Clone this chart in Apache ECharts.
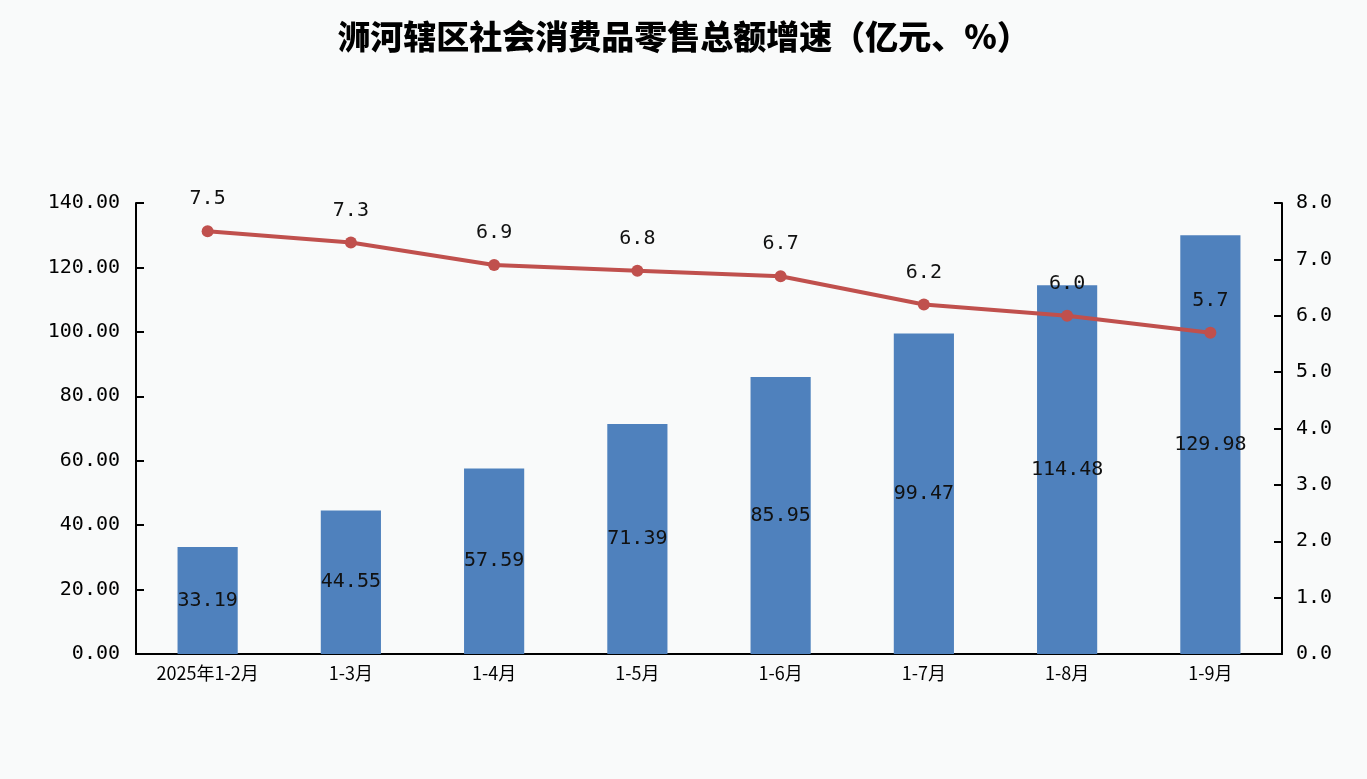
<!DOCTYPE html>
<html>
<head>
<meta charset="utf-8">
<script src="https://cdn.jsdelivr.net/npm/echarts@6/dist/echarts.min.js"></script>
<style>
  html, body { margin: 0; padding: 0; background: #f9fafa; }
  #chart { width: 1367px; height: 779px; }
</style>
</head>
<body>
<div id="chart"></div>
<script>
// 浉河辖区社会消费品零售总额及增速
var months = ['2025年1-2月', '1-3月', '1-4月', '1-5月', '1-6月', '1-7月', '1-8月', '1-9月'];
var totals = [33.19, 44.55, 57.59, 71.39, 85.95, 99.47, 114.48, 129.98];
var growth = [7.5, 7.3, 6.9, 6.8, 6.7, 6.2, 6.0, 5.7];

var monoFont = '"DejaVu Sans Mono", monospace';

var option = {
    backgroundColor: '#f9fafa',
    title: {
        text: '浉河辖区社会消费品零售总额增速（亿元、%）',
        left: 'center',
        top: 15,
        textStyle: {
            fontFamily: '"Noto Sans CJK SC"',
            fontWeight: 900,
            fontSize: 33,
            color: '#000'
        }
    },
    grid: {
        left: 136,
        right: 85,
        top: 203,
        bottom: 125
    },
    xAxis: {
        type: 'category',
        data: months,
        axisLine: { lineStyle: { color: '#000', width: 2 } },
        axisTick: { inside: true, length: 8, lineStyle: { color: '#000', width: 2 } },
        axisLabel: {
            color: '#000',
            fontSize: 18,
            fontFamily: '"Noto Sans CJK SC"',
            margin: 10
        }
    },
    yAxis: [
        {
            type: 'value',
            min: 0,
            max: 140,
            interval: 20,
            axisLine: { show: true, lineStyle: { color: '#000', width: 2 } },
            axisTick: { show: true, inside: true, length: 8, lineStyle: { color: '#000', width: 2 } },
            splitLine: { show: false },
            axisLabel: {
                color: '#000',
                fontSize: 20,
                fontFamily: monoFont,
                margin: 16,
                formatter: function (v) { return v.toFixed(2); }
            }
        },
        {
            type: 'value',
            min: 0,
            max: 8,
            interval: 1,
            axisLine: { show: true, lineStyle: { color: '#000', width: 2 } },
            axisTick: { show: true, inside: true, length: 8, lineStyle: { color: '#000', width: 2 } },
            splitLine: { show: false },
            axisLabel: {
                color: '#000',
                fontSize: 20,
                fontFamily: monoFont,
                margin: 14,
                formatter: function (v) { return v.toFixed(1); }
            }
        }
    ],
    series: [
        {
            name: '社会消费品零售总额',
            type: 'bar',
            data: totals,
            barWidth: '42%',
            itemStyle: { color: '#4f81bd' },
            label: {
                show: true,
                position: 'inside',
                color: '#111',
                fontSize: 20,
                fontFamily: monoFont,
                formatter: function (p) { return p.value.toFixed(2); }
            }
        },
        {
            name: '增速',
            type: 'line',
            yAxisIndex: 1,
            data: growth,
            symbol: 'circle',
            symbolSize: 12,
            itemStyle: { color: '#c0504d' },
            lineStyle: { color: '#c0504d', width: 4 },
            label: {
                show: true,
                position: 'top',
                distance: 16,
                color: '#111',
                fontSize: 20,
                fontFamily: monoFont,
                formatter: function (p) { return p.value.toFixed(1); }
            }
        }
    ]
};

var myChart = echarts.init(document.getElementById('chart'));
myChart.setOption(option);
</script>
</body>
</html>
